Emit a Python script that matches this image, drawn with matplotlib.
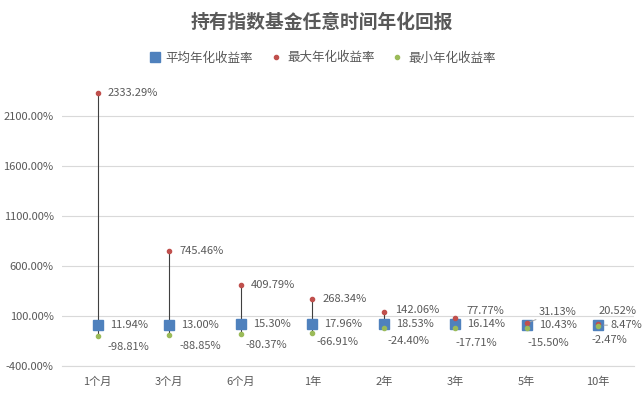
import numpy as np
import matplotlib
matplotlib.use("Agg")
import matplotlib.pyplot as plt

plt.rcParams['font.family'] = ['Noto Sans CJK SC', 'DejaVu Sans']

categories = ["1个月", "3个月", "6个月", "1年", "2年", "3年", "5年", "10年"]
avg_ret = [11.94, 13.00, 15.30, 17.96, 18.53, 16.14, 10.43, 8.47]
max_ret = [2333.29, 745.46, 409.79, 268.34, 142.06, 77.77, 31.13, 20.52]
min_ret = [-98.81, -88.85, -80.37, -66.91, -24.40, -17.71, -15.50, -2.47]
y_ticks = [-400, 100, 600, 1100, 1600, 2100]

TXT = "#595959"
BLUE = "#4F81BD"
RED = "#C0504D"
GREEN = "#9BBB59"

# label offsets in pixels (x, y), tweaked per category like the Excel layout
max_off = [(10, 0), (10, 0), (10, 0), (10, 0), (11, 2), (11, 7), (12, 11), (0, 13)]
avg_off = [(12, 0), (12, 0), (12, 0), (12, 0), (12, 0), (12, 0), (12, 0), (12, 0)]
min_off = [(10, -11), (10, -11), (5, -11), (4, -9), (4, -13), (0, -15), (1, -15), (-7, -14)]
leader_max = [False] * 6 + [True, False]
leader_avg = [False] * 7 + [True]

fig = plt.figure(figsize=(6.44, 3.94), dpi=100)
ax = fig.add_axes([62 / 644, 1 - 366 / 394, (634 - 62) / 644, (366 - 86) / 394])

x = np.arange(len(categories))
ax.vlines(x, min_ret, max_ret, color="#404040", lw=0.8, zorder=2)
ax.plot(x, avg_ret, "s", color=BLUE, ms=6.5, ls="none", zorder=3, label="平均年化收益率")
ax.plot(x, max_ret, "o", color=RED, ms=3, ls="none", zorder=4, label="最大年化收益率")
ax.plot(x, min_ret, "o", color=GREEN, ms=3, ls="none", zorder=4, label="最小年化收益率")

fs = 8
for i in range(len(categories)):
    ap = dict(arrowstyle="-", color="#A6A6A6", lw=0.7, shrinkA=0, shrinkB=2) if leader_max[i] else None
    ax.annotate(f"{max_ret[i]:.2f}%", (x[i], max_ret[i]), xytext=max_off[i],
                textcoords="offset pixels", ha="left", va="center",
                fontsize=fs, color=TXT, arrowprops=ap)
    ap = dict(arrowstyle="-", color="#A6A6A6", lw=0.7, shrinkA=0, shrinkB=4) if leader_avg[i] else None
    ax.annotate(f"{avg_ret[i]:.2f}%", (x[i], avg_ret[i]), xytext=avg_off[i],
                textcoords="offset pixels", ha="left", va="center",
                fontsize=fs, color=TXT, arrowprops=ap)
    ax.annotate(f"{min_ret[i]:.2f}%", (x[i], min_ret[i]), xytext=min_off[i],
                textcoords="offset pixels", ha="left", va="center",
                fontsize=fs, color=TXT)

ax.set_xlim(-0.5, len(categories) - 0.5)
ax.set_ylim(-400, 2400)
ax.set_yticks(y_ticks)
ax.set_yticklabels([f"{v:.2f}%" for v in y_ticks])
ax.set_xticks(x)
ax.set_xticklabels(categories)
ax.tick_params(axis="both", length=0, labelsize=8, labelcolor=TXT)
ax.tick_params(axis="x", pad=8)
ax.tick_params(axis="y", pad=6)
ax.grid(axis="y", color="#D9D9D9", lw=0.8, zorder=0)
ax.set_axisbelow(True)
for s in ["top", "right", "left"]:
    ax.spines[s].set_visible(False)
ax.spines["bottom"].set_color("#D9D9D9")
ax.spines["bottom"].set_linewidth(0.8)

fig.text(0.5, 1 - 22 / 394, "持有指数基金任意时间年化回报", ha="center", va="center",
         fontsize=13.5, fontweight="bold", color=TXT)
fig.legend(loc="center", bbox_to_anchor=(0.5, 1 - 58 / 394), ncol=3, frameon=False,
           fontsize=9, labelcolor=TXT, handletextpad=0.4, columnspacing=1.3,
           handlelength=1.0, markerscale=1.0)

fig.savefig("out.png", dpi=100)
